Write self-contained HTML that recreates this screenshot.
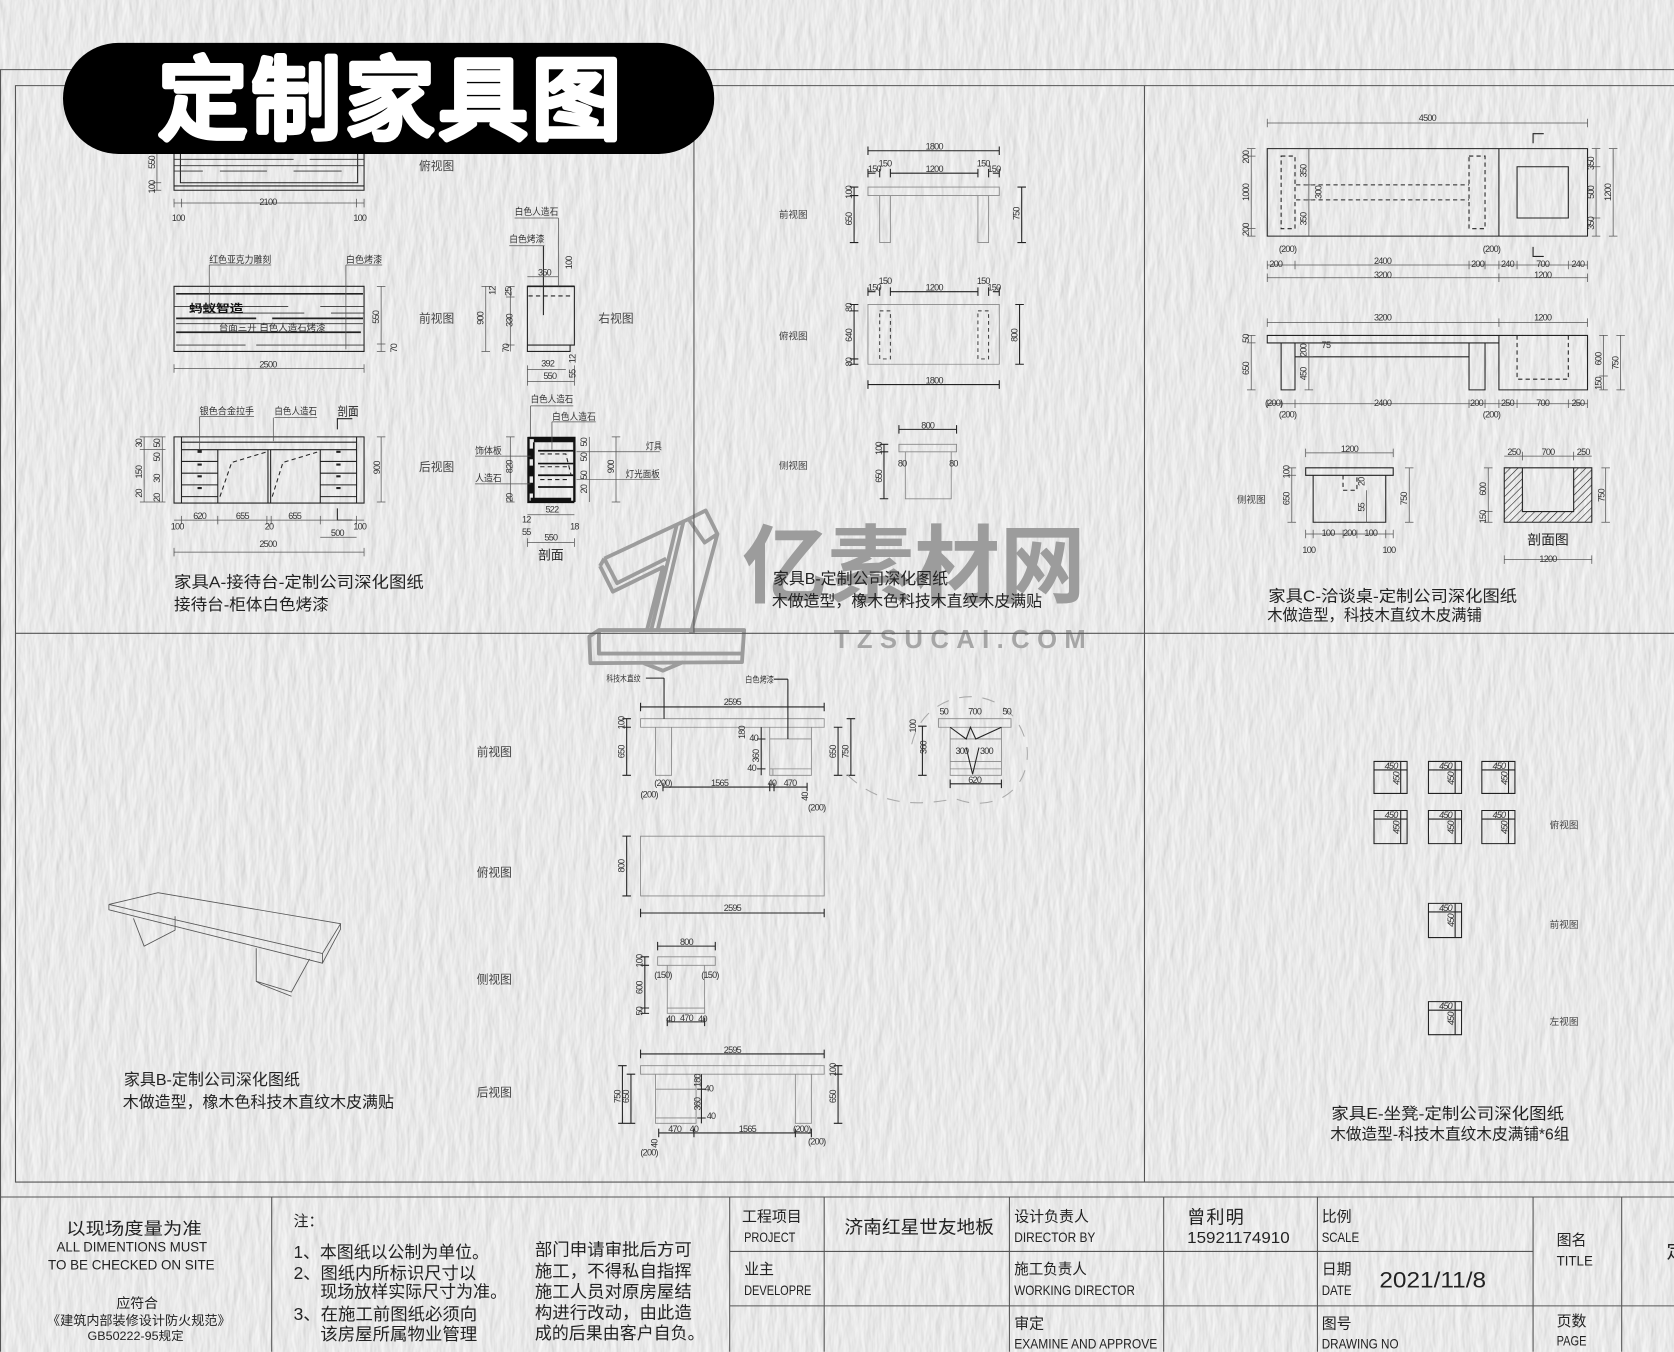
<!DOCTYPE html>
<html><head><meta charset="utf-8"><style>
html,body{margin:0;padding:0;background:#e9e9e9;width:1674px;height:1352px;overflow:hidden}
svg{display:block}
text{font-family:"Liberation Sans","Noto Sans CJK SC",sans-serif;fill:#222}
.d{font-size:8.5px;text-anchor:middle;fill:#333;letter-spacing:-.7px}
.a{font-size:9px;fill:#333}
.v{font-size:11px;text-anchor:middle;fill:#444}
.w{font-size:9px;text-anchor:middle;fill:#444}
.c{font-size:15px;fill:#222}
.t{font-size:14px;fill:#222}
.e{font-size:13px;fill:#222}
.n{font-size:16px;fill:#222}
.k{fill:none;stroke:#222;stroke-width:1}
.h{fill:none;stroke:#222;stroke-width:1.6}
.g{fill:none;stroke:#888;stroke-width:.8}
.m{fill:none;stroke:#555;stroke-width:1}
.b{fill:none;stroke:#555;stroke-width:.7}
.da{fill:none;stroke:#222;stroke-width:1;stroke-dasharray:4 3}
.f{fill:none;stroke:#333;stroke-width:.8}
</style></head><body>
<svg xmlns="http://www.w3.org/2000/svg" width="1674" height="1352" viewBox="0 0 1568 1266">
<defs>
<filter id="p" x="0" y="0" width="100%" height="100%" color-interpolation-filters="sRGB">
<feTurbulence type="fractalNoise" baseFrequency="0.12 0.035" numOctaves="3" seed="7" result="n"/>
<feDiffuseLighting in="n" lighting-color="#ffffff" surfaceScale="0.42" diffuseConstant="1"><feDistantLight azimuth="10" elevation="66"/></feDiffuseLighting>
</filter>
<pattern id="hat" width="5" height="5" patternUnits="userSpaceOnUse" patternTransform="rotate(45)"><rect width="5" height="5" fill="none"/><line x1="0" y1="0" x2="0" y2="5" stroke="#222" stroke-width="1.1"/></pattern>
</defs>
<rect width="1568" height="1266" fill="#e9e9e9" filter="url(#p)"/>

<!-- Watermark -->
<g fill="none" stroke="#9c9c9c" stroke-width="3.6" stroke-linejoin="round">
<path d="M566 523L645 486L661 478L672 500L647 593M562 530L574 554L621 531L606 590M562 530L566 523M640 489L616 590M634 491L610 590M566 523L578 546L624 523M645 486L660 508L672 500"/>
<path d="M552 596L561 590H697L695 620L553 621ZM561 590V612H695M603 621L621 628L640 620"/>
</g>
<text x="695" y="558" style="font-size:80px;font-weight:bold;fill:#9c9c9c" textLength="322" lengthAdjust="spacingAndGlyphs">亿素材网</text>
<text x="781" y="607" style="font-size:24px;font-weight:bold;fill:#a6a6a6" textLength="236" lengthAdjust="spacing">TZSUCAI.COM</text>

<!-- frame -->
<path class="m" d="M0 65H1568M.5 65V1266M14.5 80V1107M14 80H1568M14 593H1568M14 1107H1568M650 80V593M1072 80V1107M0 1121H1568M254.5 1121V1266M683.5 1121V1266M772 1121V1266M945.5 1121V1266M1090 1121V1266M1234 1121V1266M1436 1121V1266M1519 1121V1266M683 1172H1436M683 1223H1568"/>

<!-- Panel A top view -->
<path class="k" d="M163 144V178H341V144M169 144V171H335V144M163 174H341"/>
<path class="f" d="M163 149H275M290 149H341M163 155H341M163 160H190M206 160H250M275 160H320"/>
<path class="b" d="M147 144V178M143 171H151M143 178H151M163 190H341M163 186V194M170 186V194M334 186V194M341 186V194"/>
<text class="d" transform="translate(145 152) rotate(-90)">550</text><text class="d" transform="translate(145 175) rotate(-90)">100</text>
<text class="d" x="251" y="192">2100</text><text class="d" x="167" y="207">100</text><text class="d" x="337" y="207">100</text>
<text class="v" x="409" y="159">俯视图</text>

<!-- Panel A front -->
<path class="k" d="M163 268H341V329H163Z"/>
<path class="h" d="M165 275H340M165 298H240M255 298H340M165 311H338"/>
<path class="f" d="M163 287H270M300 287H341M190 293H285M310 293H341M165 303H340M165 323H230M240 323H341"/>
<text x="177" y="292" style="font-size:10px;font-weight:bold;fill:#111" textLength="51" lengthAdjust="spacingAndGlyphs">蚂蚁智造</text>
<text class="a" x="205" y="310" textLength="100" lengthAdjust="spacingAndGlyphs">台面三开 白色人造石烤漆</text>
<path class="b" d="M196 248H254M196 248V290M324 248H358M324 248V327M357 268V329M353 268H361M353 329H361M353 322H361M163 345H341M163 341V349M341 341V349"/>
<text class="a" x="196" y="246" textLength="58" lengthAdjust="spacingAndGlyphs">红色亚克力雕刻</text>
<text class="a" x="324" y="246" textLength="34" lengthAdjust="spacingAndGlyphs">白色烤漆</text>
<text class="d" transform="translate(355 297) rotate(-90)">550</text><text class="d" transform="translate(372 326) rotate(-90)">70</text><text class="d" x="251" y="344">2500</text>
<text class="v" x="409" y="302">前视图</text>

<!-- Panel A rear -->
<path class="k" d="M163 409H341V471H163ZM170 409V471M334 409V471M170 414H334M170 421H334M204 421V471M300 421V471M251 421V471M253.5 421V471M170 432H204M170 443H204M170 454H204M170 465H204M300 432H334M300 443H334M300 454H334M300 465H334"/>
<path class="da" d="M206 465L217 433L250 423M255 465L265 433L298 423"/>
<path fill="#222" d="M185 421h4v3h-4zM185 434h4v2h-4zM185 445h4v2h-4zM185 456h4v2h-4zM315 422h4v2h-4zM315 434h4v2h-4zM315 445h4v2h-4zM315 456h4v2h-4z"/>
<path class="b" d="M187 390H238M187 390V421M257 391H297M256 391V413"/>
<path class="k" d="M316 402V392H330M316 476V487H330"/>
<text class="a" x="187" y="388" textLength="51" lengthAdjust="spacingAndGlyphs">银色合金拉手</text>
<text class="a" x="257" y="388" textLength="40" lengthAdjust="spacingAndGlyphs">白色人造石</text>
<text x="316" y="389" style="font-size:11px" textLength="20" lengthAdjust="spacingAndGlyphs">剖面</text>
<path class="b" d="M135 409V470M152 409V470M131 409H155M131 421H155M131 470H155M357 409V470M353 409H361M353 470H361M163 487H341M170 483V491M204 483V491M250 483V491M254 483V491M300 483V491M334 483V491M300 503H334M163 517H341M163 513V521M341 513V521"/>
<text class="d" transform="translate(133 415) rotate(-90)">30</text><text class="d" transform="translate(133 442) rotate(-90)">150</text><text class="d" transform="translate(133 462) rotate(-90)">20</text>
<text class="d" transform="translate(150 415) rotate(-90)">50</text><text class="d" transform="translate(150 428) rotate(-90)">50</text><text class="d" transform="translate(150 448) rotate(-90)">30</text><text class="d" transform="translate(150 466) rotate(-90)">20</text>
<text class="d" transform="translate(356 438) rotate(-90)">900</text>
<text class="d" x="187" y="486">620</text><text class="d" x="227" y="486">655</text><text class="d" x="276" y="486">655</text>
<text class="d" x="166" y="496">100</text><text class="d" x="252" y="496">20</text><text class="d" x="337" y="496">100</text>
<text class="d" x="316" y="502">500</text><text class="d" x="251" y="512">2500</text>
<text class="v" x="409" y="441">后视图</text>

<!-- Panel A side -->
<path class="k" d="M494 268H538V323H534V329H494Z"/><path class="h" d="M494 268H538"/>
<path class="da" d="M495 277H534"/><path class="k" d="M494 323H534M509 230V295"/>
<path class="b" d="M482 204H523M523 204V268M477 230H510M494 259H523M455 268V329M451 268H459M451 329H459M478 268V329M474 268H482M474 278H482M474 323H482M494 346H530M494 357H538M494 342V361M538 342V361"/>
<text class="a" x="482" y="201" textLength="41" lengthAdjust="spacingAndGlyphs">白色人造石</text>
<text class="a" x="477" y="227" textLength="33" lengthAdjust="spacingAndGlyphs">白色烤漆</text>
<text class="d" x="510" y="258">350</text><text class="d" transform="translate(536 246) rotate(-90)">100</text>
<text class="d" transform="translate(453 298) rotate(-90)">900</text><text class="d" transform="translate(464 272) rotate(-90)">12</text><text class="d" transform="translate(479 273) rotate(-90)">25</text><text class="d" transform="translate(480 300) rotate(-90)">330</text><text class="d" transform="translate(477 326) rotate(-90)">70</text>
<text class="d" x="513" y="343">392</text><text class="d" x="515" y="355">550</text><text class="d" transform="translate(539 336) rotate(-90)">12</text><text class="d" transform="translate(539 350) rotate(-90)">55</text>
<text class="v" x="577" y="302">右视图</text>

<!-- Panel A section -->
<path style="fill:none;stroke:#111;stroke-width:2.2" d="M495 409V470H538M495 410H538V470"/>
<path style="fill:none;stroke:#111;stroke-width:4" d="M500 412H538M497 468H535"/>
<path style="fill:none;stroke:#111;stroke-width:1.6" d="M500 414V467M504 422H537M504 434H537M504 445H537M504 456H537"/>
<path fill="#111" d="M495 420h5v10h-5zM495 436h5v10h-5zM495 452h5v10h-5z"/>
<path class="da" d="M506 425L530 425L535 445M506 437H534M506 449H534"/>
<path class="b" d="M497 380H537M497 380V409M517 395H558M517 395V421M445 427H497M445 453H497M540 423H618M540 449H618M478 409V470M474 409H482M474 470H482M552 409V470M577 409V470M573 409H581M573 470H581M494 482H538M494 508H538M494 504V512M538 504V512"/>
<text class="a" x="497" y="377" textLength="40" lengthAdjust="spacingAndGlyphs">白色人造石</text>
<text class="a" x="517" y="393" textLength="41" lengthAdjust="spacingAndGlyphs">白色人造石</text>
<text class="a" x="445" y="425" textLength="25" lengthAdjust="spacingAndGlyphs">饰体板</text>
<text class="a" x="445" y="451" textLength="25" lengthAdjust="spacingAndGlyphs">人造石</text>
<text class="a" x="605" y="421" textLength="15" lengthAdjust="spacingAndGlyphs">灯具</text>
<text class="a" x="586" y="447" textLength="32" lengthAdjust="spacingAndGlyphs">灯光面板</text>
<text class="d" transform="translate(480 437) rotate(-90)">820</text><text class="d" transform="translate(480 466) rotate(-90)">20</text>
<text class="d" transform="translate(550 414) rotate(-90)">50</text><text class="d" transform="translate(550 428) rotate(-90)">50</text><text class="d" transform="translate(550 445) rotate(-90)">50</text><text class="d" transform="translate(550 458) rotate(-90)">20</text>
<text class="d" transform="translate(575 437) rotate(-90)">900</text><text class="d" x="517" y="480">522</text><text class="d" x="493" y="489">12</text><text class="d" x="538" y="496">18</text><text class="d" x="493" y="501">55</text><text class="d" x="516" y="506">550</text>
<text x="516" y="524" style="font-size:12px;text-anchor:middle">剖面</text>

<text class="c" x="163" y="550" textLength="234" lengthAdjust="spacingAndGlyphs">家具A-接待台-定制公司深化图纸</text>
<text class="c" x="163" y="571" textLength="145" lengthAdjust="spacingAndGlyphs">接待台-柜体白色烤漆</text>

<!-- Panel B top -->
<path class="g" d="M813 175H936V183H813ZM824 183V227H834V183M916 183V227H926V183"/>
<path class="k" d="M813 141H936M813 137V145M936 137V145M813 162H820M834 162H916M930 162H936M813 158V166M824 158V166M834 158V166M916 158V166M926 158V166M936 158V166M800 175V227M796 175H804M796 183H804M796 227H804M957 175V227M953 175H961M953 227H961"/>
<text class="d" x="875" y="140">1800</text><text class="d" x="875" y="161">1200</text><text class="d" x="829" y="156">150</text><text class="d" x="921" y="156">150</text><text class="d" x="819" y="161">150</text><text class="d" x="931" y="161">150</text>
<text class="d" transform="translate(798 180) rotate(-90)">100</text><text class="d" transform="translate(798 205) rotate(-90)">650</text><text class="d" transform="translate(955 200) rotate(-90)">750</text>
<text class="w" x="743" y="204">前视图</text>
<path class="g" d="M813 285H936V341H813Z"/>
<path style="fill:none;stroke:#333;stroke-width:.9;stroke-dasharray:3.5 3" d="M824 291H834V336H824ZM916 291H926V336H916Z"/>
<path class="k" d="M813 273H820M834 273H916M930 273H936M813 269V277M824 269V277M834 269V277M916 269V277M926 269V277M936 269V277M800 285V341M796 285H804M796 291H804M796 336H804M796 341H804M955 285V341M951 285H959M951 341H959M813 360H936M813 356V364M936 356V364"/>
<text class="d" x="875" y="272">1200</text><text class="d" x="829" y="266">150</text><text class="d" x="921" y="266">150</text><text class="d" x="819" y="272">150</text><text class="d" x="931" y="272">150</text>
<text class="d" transform="translate(798 288) rotate(-90)">80</text><text class="d" transform="translate(798 314) rotate(-90)">640</text><text class="d" transform="translate(798 339) rotate(-90)">80</text><text class="d" transform="translate(953 314) rotate(-90)">800</text><text class="d" x="875" y="359">1800</text>
<text class="w" x="743" y="318">俯视图</text>
<path class="g" d="M842 416H896V423H842ZM848 423V467H891V423"/>
<path class="k" d="M842 402H896M842 398V406M896 398V406M828 416V467M824 416H832M824 423H832M824 467H832"/>
<text class="d" x="869" y="401">800</text><text class="d" transform="translate(826 420) rotate(-90)">100</text><text class="d" transform="translate(826 446) rotate(-90)">650</text><text class="d" x="845" y="437">80</text><text class="d" x="893" y="437">80</text>
<text class="w" x="743" y="439">侧视图</text>
<text class="c" x="724" y="547" textLength="164" lengthAdjust="spacingAndGlyphs">家具B-定制公司深化图纸</text>
<text class="c" x="723" y="568" textLength="253" lengthAdjust="spacingAndGlyphs">木做造型，橡木色科技木直纹木皮满贴</text>

<!-- Panel C top -->
<path class="k" d="M1187 139H1487V221H1187ZM1404 139V221M1421 156H1469V204H1421ZM1436 134V125H1446M1436 231V240H1446"/>
<path class="da" d="M1200 146H1213V214H1200ZM1376 146H1391V214H1376ZM1214 173H1376M1214 187H1376"/>
<path class="b" d="M1187 115H1487M1187 111V119M1487 111V119M1172 139V221M1168 139H1176M1168 146H1176M1168 214H1176M1168 221H1176M1226 139V221M1222 173H1230M1222 187H1230M1495 139V221M1491 139H1499M1491 156H1499M1491 204H1499M1491 221H1499M1511 139V221M1507 139H1515M1507 221H1515M1187 248H1487M1187 244V252M1213 244V252M1376 244V252M1391 244V252M1404 244V252M1421 244V252M1469 244V252M1487 244V252M1187 260H1487M1187 256V264M1404 256V264M1487 256V264"/>
<text class="d" x="1337" y="113">4500</text>
<text class="d" transform="translate(1170 147) rotate(-90)">200</text><text class="d" transform="translate(1170 180) rotate(-90)">1000</text><text class="d" transform="translate(1170 215) rotate(-90)">200</text>
<text class="d" transform="translate(1224 160) rotate(-90)">350</text><text class="d" transform="translate(1238 180) rotate(-90)">300</text><text class="d" transform="translate(1224 205) rotate(-90)">350</text>
<text class="d" transform="translate(1493 153) rotate(-90)">350</text><text class="d" transform="translate(1493 180) rotate(-90)">500</text><text class="d" transform="translate(1493 209) rotate(-90)">350</text><text class="d" transform="translate(1509 180) rotate(-90)">1200</text>
<text class="d" x="1206" y="236">(200)</text><text class="d" x="1397" y="236">(200)</text>
<text class="d" x="1195" y="250">200</text><text class="d" x="1295" y="247">2400</text><text class="d" x="1384" y="250">200</text><text class="d" x="1412" y="250">240</text><text class="d" x="1445" y="250">700</text><text class="d" x="1478" y="250">240</text>
<text class="d" x="1295" y="260">3200</text><text class="d" x="1445" y="260">1200</text>

<!-- Panel C elevation -->
<path class="k" d="M1187 314H1404V321H1187ZM1404 314H1487V365H1404ZM1200 321V365H1213V321M1376 321V365H1391V321M1213 334H1376"/>
<path class="da" d="M1421 314V355H1469V314"/>
<path class="b" d="M1187 302H1487M1187 298V306M1404 298V306M1487 298V306M1172 314V365M1168 314H1176M1168 321H1176M1168 365H1176M1226 321V365M1222 334H1230M1222 365H1230M1502 314V365M1498 314H1506M1498 352H1506M1498 365H1506M1518 314V365M1514 314H1522M1514 365H1522M1187 378H1487M1187 374V382M1200 374V382M1213 374V382M1376 374V382M1391 374V382M1404 374V382M1421 374V382M1469 374V382M1487 374V382"/>
<text class="d" x="1295" y="300">3200</text><text class="d" x="1445" y="300">1200</text>
<text class="d" transform="translate(1170 317) rotate(-90)">50</text><text class="d" transform="translate(1170 345) rotate(-90)">650</text><text class="d" x="1242" y="326">75</text>
<text class="d" transform="translate(1224 328) rotate(-90)">200</text><text class="d" transform="translate(1224 350) rotate(-90)">450</text>
<text class="d" transform="translate(1500 336) rotate(-90)">600</text><text class="d" transform="translate(1500 359) rotate(-90)">150</text><text class="d" transform="translate(1516 340) rotate(-90)">750</text>
<text class="d" x="1193" y="380">(200)</text><text class="d" x="1295" y="380">2400</text><text class="d" x="1383" y="380">200</text><text class="d" x="1412" y="380">250</text><text class="d" x="1445" y="380">700</text><text class="d" x="1478" y="380">250</text>
<text class="d" x="1206" y="391">(200)</text><text class="d" x="1397" y="391">(200)</text>

<!-- Panel C side -->
<path class="k" d="M1223 438H1305V445H1223ZM1230 445V489H1298V445"/>
<path class="da" d="M1258 445V459H1271V445"/>
<path class="b" d="M1223 424H1305M1223 420V428M1305 420V428M1210 438V489M1206 438H1214M1206 445H1214M1206 489H1214M1320 438V489M1316 438H1324M1316 489H1324M1223 500H1305M1223 496V504M1230 496V504M1258 496V504M1271 496V504M1298 496V504M1305 496V504M1280 459V489"/>
<text class="d" x="1264" y="423">1200</text><text class="d" transform="translate(1208 442) rotate(-90)">100</text><text class="d" transform="translate(1208 467) rotate(-90)">650</text><text class="d" transform="translate(1318 467) rotate(-90)">750</text><text class="d" transform="translate(1278 451) rotate(-90)">20</text><text class="d" transform="translate(1278 475) rotate(-90)">55</text>
<text class="d" x="1244" y="502">100</text><text class="d" x="1264" y="502">200</text><text class="d" x="1284" y="502">100</text><text class="d" x="1226" y="518">100</text><text class="d" x="1301" y="518">100</text>
<text class="w" x="1172" y="471">侧视图</text>

<!-- Panel C section -->
<path fill="url(#hat)" d="M1409 438H1491V489H1409ZM1426 438V479H1474V438Z" fill-rule="evenodd"/>
<path class="k" d="M1409 438H1491V489H1409ZM1426 438V479H1474V438"/>
<path class="b" d="M1409 427H1491M1426 423V431M1474 423V431M1394 438V489M1390 438H1398M1390 479H1398M1390 489H1398M1504 438V489M1500 438H1508M1500 489H1508M1409 524H1491M1409 520V528M1491 520V528"/>
<text class="d" x="1418" y="426">250</text><text class="d" x="1450" y="426">700</text><text class="d" x="1483" y="426">250</text>
<text class="d" transform="translate(1392 458) rotate(-90)">600</text><text class="d" transform="translate(1392 484) rotate(-90)">150</text><text class="d" transform="translate(1503 464) rotate(-90)">750</text><text class="d" x="1450" y="526">1200</text>
<text x="1450" y="510" style="font-size:13px;text-anchor:middle">剖面图</text>
<text class="c" x="1188" y="563" textLength="233" lengthAdjust="spacingAndGlyphs">家具C-洽谈桌-定制公司深化图纸</text>
<text class="c" x="1187" y="581" textLength="201" lengthAdjust="spacingAndGlyphs">木做造型，科技木直纹木皮满铺</text>

<!-- Lower-left perspective -->
<path class="m" style="stroke-width:.8" d="M102 847L148 836L319 865L302 893ZM102 847V852L302 902V893M302 902L319 870V865M125 860L135 886L164 871V858M240 888V919L273 929L290 898M240 919L245 922L273 933"/>
<text class="c" x="116" y="1016" textLength="165" lengthAdjust="spacingAndGlyphs">家具B-定制公司深化图纸</text>
<text class="c" x="115" y="1037" textLength="254" lengthAdjust="spacingAndGlyphs">木做造型，橡木色科技木直纹木皮满贴</text>

<!-- Lower front -->
<path class="g" d="M600 673H772V681H600ZM614 681V726H629V681M721 681V726H760V681M721 692H760M721 720H760M724 720V726"/>
<path class="k" d="M600 662H772M600 658V666M772 658V666M605 635H622M622 635V673M725 636H738M738 636V692M587 673V726M583 673H591M583 681H591M583 726H591M785 681V726M781 681H789M781 726H789M797 673V726M793 673H801M793 726H801M713 681V726M709 692H717M709 720H717M621 737H756M621 733V741M721 733V741M725 733V741M756 733V741"/>
<text class="a" x="568" y="638" textLength="32" lengthAdjust="spacingAndGlyphs" style="font-size:8px">科技木直纹</text>
<text class="a" x="698" y="639" textLength="27" lengthAdjust="spacingAndGlyphs" style="font-size:8px">白色烤漆</text>
<text class="d" x="686" y="660">2595</text>
<text class="d" transform="translate(585 677) rotate(-90)">100</text><text class="d" transform="translate(585 704) rotate(-90)">650</text><text class="d" transform="translate(783 704) rotate(-90)">650</text><text class="d" transform="translate(795 704) rotate(-90)">750</text>
<text class="d" transform="translate(698 686) rotate(-90)">180</text><text class="d" x="706" y="694">40</text><text class="d" transform="translate(711 708) rotate(-90)">360</text><text class="d" x="704" y="722">40</text>
<text class="d" x="621" y="736">(200)</text><text class="d" x="674" y="736">1565</text><text class="d" x="723" y="736">40</text><text class="d" x="740" y="736">470</text>
<text class="d" x="608" y="747">(200)</text><text class="d" transform="translate(757 746) rotate(-90)">40</text><text class="d" x="765" y="759">(200)</text>
<text class="v" x="463" y="708">前视图</text>

<!-- Detail bubble -->
<path style="fill:none;stroke:#aaa;stroke-width:1;stroke-dasharray:12 10" d="M854 697C866 640 950 634 962 700C966 740 930 762 895 748C870 752 830 760 794 726"/>
<path class="g" d="M879 673H947V681H879ZM890 681V726H938V681M890 692H938M890 713H938M890 720H938"/>
<path style="fill:none;stroke:#222;stroke-width:1" d="M890 681L905 692L909 681L914 692L938 681M905 700L911 725L917 700"/>
<path class="k" d="M864 680V726M860 680H868M860 726H868M890 734H938M890 730V738M938 730V738"/>
<text class="d" x="884" y="669">50</text><text class="d" x="913" y="669">700</text><text class="d" x="943" y="669">50</text><text class="d" transform="translate(858 680) rotate(-90)">100</text><text class="d" transform="translate(868 700) rotate(-90)">360</text><text class="d" x="901" y="706">300</text><text class="d" x="924" y="706">300</text><text class="d" x="913" y="733">620</text>

<!-- Lower plan -->
<path class="g" d="M600 783H772V839H600Z"/>
<path class="k" d="M587 783V839M583 783H591M583 839H591M600 855H772M600 851V859M772 851V859"/>
<text class="d" transform="translate(585 811) rotate(-90)">800</text><text class="d" x="686" y="853">2595</text>
<text class="v" x="463" y="821">俯视图</text>

<!-- Lower side -->
<path class="g" d="M616 896H670V904H616ZM625 904V949H660V904M625 944H660"/>
<path class="k" d="M616 886H670M616 882V890M670 882V890M604 896V949M600 896H608M600 904H608M600 944H608M600 949H608M625 957H660M625 953V961M660 953V961"/>
<text class="d" x="643" y="885">800</text><text class="d" transform="translate(602 900) rotate(-90)">100</text><text class="d" transform="translate(602 925) rotate(-90)">600</text><text class="d" transform="translate(602 947) rotate(-90)">50</text><text class="d" x="621" y="916">(150)</text><text class="d" x="665" y="916">(150)</text><text class="d" x="628" y="957">40</text><text class="d" x="643" y="956">470</text><text class="d" x="658" y="957">40</text>
<text class="v" x="463" y="921">侧视图</text>

<!-- Lower rear -->
<path class="g" d="M600 998H772V1006H600ZM614 1006V1052H652V1006M614 1020H652M614 1047H652M745 1006V1052H760V1006"/>
<path class="k" d="M600 987H772M600 983V991M772 983V991M583 998V1052M579 998H587M579 1052H587M591 1006V1052M587 1006H595M587 1052H595M785 998V1052M781 998H789M781 1006H789M781 1052H789M657 1006V1052M653 1020H661M653 1047H661M617 1061H760M617 1057V1065M650 1057V1065M745 1057V1065M760 1057V1065"/>
<text class="d" x="686" y="986">2595</text><text class="d" transform="translate(581 1027) rotate(-90)">750</text><text class="d" transform="translate(589 1027) rotate(-90)">650</text><text class="d" transform="translate(783 1002) rotate(-90)">100</text><text class="d" transform="translate(783 1027) rotate(-90)">650</text>
<text class="d" transform="translate(656 1012) rotate(-90)">180</text><text class="d" x="664" y="1022">40</text><text class="d" transform="translate(656 1034) rotate(-90)">360</text><text class="d" x="666" y="1048">40</text>
<text class="d" x="632" y="1060">470</text><text class="d" x="650" y="1060">40</text><text class="d" x="700" y="1060">1565</text><text class="d" x="751" y="1060">(200)</text>
<text class="d" transform="translate(616 1071) rotate(-90)">40</text><text class="d" x="608" y="1082">(200)</text><text class="d" x="765" y="1072">(200)</text>
<text class="v" x="463" y="1027">后视图</text>

<!-- Panel E -->
<path class="k" d="M1287 713H1318V743H1287ZM1287 721H1318M1312 713V743M1338 713H1369V743H1338ZM1338 721H1369M1363 713V743M1388 713H1419V743H1388ZM1388 721H1419M1413 713V743M1287 759H1318V790H1287ZM1287 767H1318M1312 759V790M1338 759H1369V790H1338ZM1338 767H1369M1363 759V790M1388 759H1419V790H1388ZM1388 767H1419M1413 759V790M1338 846H1369V878H1338ZM1338 854H1369M1363 846V878M1338 938H1369V969H1338ZM1338 946H1369M1363 938V969"/>
<g style="font-style:italic">
<text class="d" x="1303" y="720">450</text><text class="d" x="1354" y="720">450</text><text class="d" x="1404" y="720">450</text><text class="d" x="1303" y="766">450</text><text class="d" x="1354" y="766">450</text><text class="d" x="1404" y="766">450</text><text class="d" x="1354" y="853">450</text><text class="d" x="1354" y="945">450</text>
<text class="d" transform="translate(1311 729) rotate(-90)">450</text><text class="d" transform="translate(1362 729) rotate(-90)">450</text><text class="d" transform="translate(1412 729) rotate(-90)">450</text><text class="d" transform="translate(1311 775) rotate(-90)">450</text><text class="d" transform="translate(1362 775) rotate(-90)">450</text><text class="d" transform="translate(1412 775) rotate(-90)">450</text><text class="d" transform="translate(1362 862) rotate(-90)">450</text><text class="d" transform="translate(1362 954) rotate(-90)">450</text>
</g>
<text class="w" x="1465" y="776">俯视图</text><text class="w" x="1465" y="869">前视图</text><text class="w" x="1465" y="960">左视图</text>
<text class="c" x="1247" y="1048" textLength="218" lengthAdjust="spacingAndGlyphs">家具E-坐凳-定制公司深化图纸</text>
<text class="c" x="1246" y="1067" textLength="224" lengthAdjust="spacingAndGlyphs">木做造型-科技木直纹木皮满铺*6组</text>

<!-- Title block text -->
<text class="n" x="62" y="1156" textLength="127" lengthAdjust="spacingAndGlyphs">以现场度量为准</text>
<text class="e" x="53" y="1172" textLength="141" lengthAdjust="spacingAndGlyphs">ALL DIMENTIONS MUST</text>
<text class="e" x="45" y="1189" textLength="156" lengthAdjust="spacingAndGlyphs">TO BE CHECKED ON SITE</text>
<text class="t" x="109" y="1225" style="font-size:13px" textLength="39" lengthAdjust="spacingAndGlyphs">应符合</text>
<text x="44" y="1241" style="font-size:12px" textLength="172" lengthAdjust="spacingAndGlyphs">《建筑内部装修设计防火规范》</text>
<text x="82" y="1255" textLength="90" lengthAdjust="spacingAndGlyphs" style="font-size:11px">GB50222-95规定</text>
<text class="t" x="275" y="1148">注：</text>
<text class="n" x="275" y="1178" textLength="183" lengthAdjust="spacingAndGlyphs">1、本图纸以公制为单位。</text>
<text class="n" x="275" y="1198" textLength="171" lengthAdjust="spacingAndGlyphs">2、图纸内所标识尺寸以</text>
<text class="n" x="300" y="1215" textLength="175" lengthAdjust="spacingAndGlyphs">现场放样实际尺寸为准。</text>
<text class="n" x="275" y="1236" textLength="172" lengthAdjust="spacingAndGlyphs">3、在施工前图纸必须向</text>
<text class="n" x="300" y="1255" textLength="147" lengthAdjust="spacingAndGlyphs">该房屋所属物业管理</text>
<text class="n" x="501" y="1176" textLength="147" lengthAdjust="spacingAndGlyphs">部门申请审批后方可</text>
<text class="n" x="501" y="1196" textLength="147" lengthAdjust="spacingAndGlyphs">施工，不得私自指挥</text>
<text class="n" x="501" y="1215" textLength="147" lengthAdjust="spacingAndGlyphs">施工人员对原房屋结</text>
<text class="n" x="501" y="1235" textLength="147" lengthAdjust="spacingAndGlyphs">构进行改动，由此造</text>
<text class="n" x="501" y="1254" textLength="159" lengthAdjust="spacingAndGlyphs">成的后果由客户自负。</text>

<text class="t" x="695" y="1144" textLength="56" lengthAdjust="spacingAndGlyphs">工程项目</text><text class="e" x="697" y="1163" textLength="48" lengthAdjust="spacingAndGlyphs">PROJECT</text>
<text class="t" x="697" y="1193">业主</text><text class="e" x="697" y="1213" textLength="63" lengthAdjust="spacingAndGlyphs">DEVELOPRE</text>
<text x="791" y="1155" style="font-size:17px" textLength="140" lengthAdjust="spacingAndGlyphs">济南红星世友地板</text>
<text class="t" x="950" y="1144" textLength="70" lengthAdjust="spacingAndGlyphs">设计负责人</text><text class="e" x="950" y="1163" textLength="76" lengthAdjust="spacingAndGlyphs">DIRECTOR BY</text>
<text class="t" x="950" y="1193" textLength="68" lengthAdjust="spacingAndGlyphs">施工负责人</text><text class="e" x="950" y="1213" textLength="113" lengthAdjust="spacingAndGlyphs">WORKING DIRECTOR</text>
<text class="t" x="950" y="1244">审定</text><text class="e" x="950" y="1263" textLength="134" lengthAdjust="spacingAndGlyphs">EXAMINE AND APPROVE</text>
<text x="1112" y="1146" style="font-size:17px" textLength="53" lengthAdjust="spacing">曾利明</text>
<text x="1112" y="1164" style="font-size:15px" textLength="96" lengthAdjust="spacingAndGlyphs">15921174910</text>
<text class="t" x="1238" y="1144">比例</text><text class="e" x="1238" y="1163" textLength="35" lengthAdjust="spacingAndGlyphs">SCALE</text>
<text class="t" x="1238" y="1193">日期</text><text class="e" x="1238" y="1213" textLength="28" lengthAdjust="spacingAndGlyphs">DATE</text>
<text x="1292" y="1206" style="font-size:21px" textLength="100" lengthAdjust="spacingAndGlyphs">2021/11/8</text>
<text class="t" x="1238" y="1244">图号</text><text class="e" x="1238" y="1263" textLength="72" lengthAdjust="spacingAndGlyphs">DRAWING NO</text>
<text class="t" x="1458" y="1166">图名</text><text class="e" x="1458" y="1185" textLength="34" lengthAdjust="spacingAndGlyphs">TITLE</text>
<text class="t" x="1458" y="1242">页数</text><text class="e" x="1458" y="1260" textLength="28" lengthAdjust="spacingAndGlyphs">PAGE</text>
<text x="1561" y="1178" style="font-size:18px">定制家具图</text>

<!-- Title pill -->
<rect x="59" y="40" width="610" height="104" rx="52" ry="52" fill="#000"/>
<text x="148" y="123" style="font-size:84px;font-weight:400;fill:#fff;stroke:#fff;stroke-width:6;stroke-linejoin:round;stroke-linecap:round;font-family:'Noto Sans CJK SC',sans-serif" textLength="434" lengthAdjust="spacing">定制家具图</text>
</svg>
</body></html>
